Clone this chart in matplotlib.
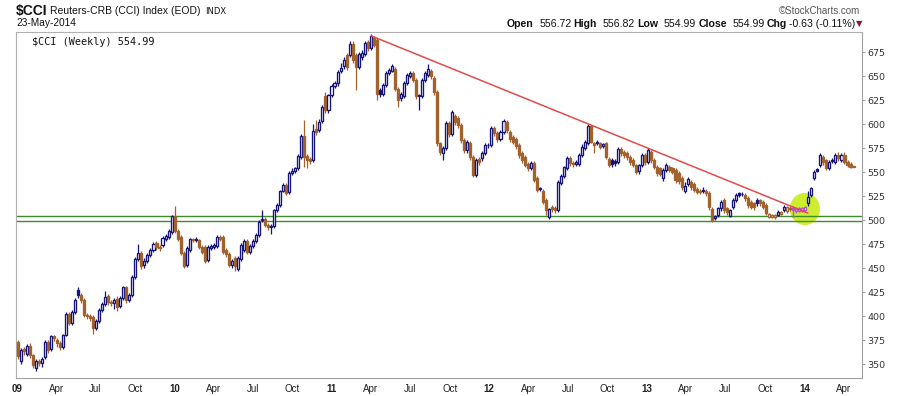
import numpy as np
import pandas as pd
import matplotlib
matplotlib.use('Agg')
import matplotlib.pyplot as plt
import matplotlib.dates as mdates
from matplotlib.patches import Ellipse

# ---------------- data (weekly OHLC) ----------------
first_week = '2009-01-02'

opens = [
    373, 353, 366, 361, 369, 360, 346, 353, 351, 358,
    373, 366, 379, 375, 372, 368, 381, 402, 393, 404,
    427, 422, 417, 401, 400, 399, 388, 395, 407, 413,
    421, 415, 414, 418, 411, 419, 430, 417, 422, 441,
    460, 466, 453, 458, 464, 469, 476, 472, 474, 480,
    483, 488, 504, 489, 483, 466, 453, 469, 480, 481,
    479, 472, 472, 459, 471, 472, 473, 483, 483, 469,
    465, 453, 461, 449, 460, 469, 478, 467, 473, 478,
    485, 501, 501, 495, 494, 494, 511, 516, 531, 537,
    529, 549, 551, 554, 566, 588, 567, 564, 563, 595,
    594, 603, 629, 615, 630, 640, 642.6, 655, 661, 672,
    672, 684, 672, 660, 670, 673, 686, 679, 690, 688,
    636, 632, 641, 653, 656, 658, 637, 627, 629, 643,
    650, 653, 646, 629, 629, 646, 651, 656, 648, 634,
    580, 570, 575, 601, 590, 609, 607, 599, 584, 573,
    581, 566, 547, 564, 565, 570, 578, 578, 596, 591,
    585, 592, 602, 592, 587, 585, 578, 570, 566, 559,
    554, 560, 544, 533.5, 531, 521, 503, 514, 513, 510.7,
    539, 546, 554, 564.5, 560, 559, 559, 568, 575, 580,
    598, 580, 582, 580, 577, 580, 564, 563, 562, 561,
    574, 571, 570, 566, 563, 557.6, 551, 557.6, 568, 561,
    571, 563, 556, 554, 544, 552, 556, 554, 552, 549,
    543.7, 531, 538, 540, 538, 533, 531, 532, 531, 528,
    512, 502, 505.5, 512.4, 521, 512.4, 504.4, 514, 521, 528,
    527.3, 526, 523, 519.4, 517.6, 521, 521, 519, 516, 503.7,
    503.7, 503, 505.5, 506.5, 510.7, 510, 512, 513, 510, 510,
    510, 511, 517.6, 526, 543.7, 553, 557.6, 566, 562.8, 554,
    562, 561, 568, 563, 568, 561, 559, 556.72,
]

closes = [
    359, 365, 364, 369.5, 360, 349, 353, 351, 355, 373,
    365, 379, 377, 372, 368, 381, 402, 393, 404, 417,
    422, 417, 401, 400, 398, 388, 395, 407, 413, 420,
    415, 414, 417, 410, 419, 430, 417, 422, 441, 460,
    466, 452, 458, 464, 469, 475, 472, 471, 482, 484,
    489, 504.5, 489, 481, 466, 452, 471, 480, 479, 479.5,
    472, 467, 458, 472, 473, 474, 483, 481, 467, 465,
    453, 458, 452, 461, 474, 478, 467, 473, 478, 485,
    498.5, 500, 495, 493, 493.5, 510.7, 516, 530.8, 536.7, 528.8,
    548.9, 551.7, 554, 567, 587.8, 566, 563, 562, 593.3, 592,
    602.7, 617.6, 615, 630, 639.9, 642.6, 654.8, 658.3, 667, 660,
    684, 667, 660, 673, 674, 685, 679, 692, 683, 632,
    632, 641, 653, 657, 660.7, 637, 625, 632, 643, 651,
    653, 646, 629, 630, 646, 653, 658, 650, 634, 580,
    571, 575, 601, 590, 613, 602, 599, 584, 573, 582,
    566, 547, 563, 561, 570, 578, 578.5, 596, 591, 585,
    592, 603, 594, 585, 582, 577, 568, 563, 558, 554,
    560, 542, 532, 532.5, 519.4, 510.7, 511.8, 511.5, 510.7, 540,
    546, 555, 564.5, 559.5, 559, 561, 568, 576.7, 582, 598.2,
    582, 578.5, 580.5, 576.7, 579, 566, 557.6, 559, 560, 574,
    570, 568, 566, 561, 557.6, 550.7, 557.6, 568, 561, 573,
    563, 556, 549, 548.5, 552, 557.6, 552.4, 550.7, 542, 541,
    535, 536, 542.5, 535, 531.5, 529.8, 529.5, 530.8, 528, 514,
    500.3, 504.4, 512.4, 519.4, 510.7, 509, 510.7, 521, 526.3, 526.5,
    527, 522.8, 516, 514, 513.8, 518.3, 517.6, 514, 507.2, 506.5,
    505.5, 505, 509, 508.5, 514, 513.5, 513, 510.5, 512, 512.5,
    512.5, 513.5, 524.6, 533.3, 550.6, 551.7, 568, 561, 554, 561,
    562.8, 568, 564.5, 568, 561, 557.6, 555.6, 554.99,
]

highs = [
    375, 367, 368, 371, 372, 361, 355, 356, 358, 375,
    375, 381, 381, 377, 374, 382, 404, 404, 407, 419,
    431, 424, 419, 403, 402, 401, 397, 409, 415, 426,
    423, 417, 419, 421, 421, 432, 432, 424, 443, 462,
    475, 468, 461, 466, 471, 477, 478, 474, 484, 486,
    491, 506, 515, 491, 485, 468, 473, 482, 482, 483,
    481, 474, 474, 474, 475, 476, 485, 485, 485, 471,
    467, 460, 463, 463, 476, 480, 480, 475, 480, 487,
    500, 510.7, 503, 497, 496, 512, 518, 532, 539, 539,
    551, 554, 556, 569, 590, 604, 569, 566, 600, 604,
    605, 620, 634, 632, 642, 645, 657, 664, 670, 674,
    687, 687, 674, 675, 677, 687, 688, 694, 692, 690,
    638, 643, 655, 659, 663, 660, 639, 634, 645, 653,
    656, 655, 648, 632, 648, 655, 663, 658, 650, 636,
    582, 577, 603, 603, 615, 611, 609, 601, 586, 584,
    583, 568, 565, 566, 572, 580, 581, 598, 598, 593,
    594, 606, 604, 594, 589, 587, 580, 572, 568, 561,
    562, 562, 546, 535, 533, 523, 513, 516, 515, 542,
    548, 557, 567, 567, 562, 563, 570, 579, 584, 600,
    599, 582, 584, 582, 581, 582, 566, 565, 564, 576,
    576, 573, 572, 568, 565, 559, 559, 570, 570, 575,
    573, 565, 558, 556, 554, 560, 558, 556, 554, 551,
    546, 540, 545, 542, 540, 535, 533, 535, 533, 530,
    514, 506, 514, 521, 523, 514, 512, 523, 528, 529.5,
    529, 528, 525, 521, 519, 523, 522, 521, 518, 508,
    507, 506.5, 510.5, 510, 516, 515, 515, 515, 514, 514,
    514, 515, 531, 535, 552, 554, 570, 568, 564, 563,
    565, 570, 571, 570, 571, 563, 560.5, 556.82,
]

lows = [
    355, 350, 360, 359, 357, 346, 343, 348, 347, 355,
    362, 364, 374, 368, 365, 366, 379, 391, 391, 402,
    419, 414, 399, 397, 395, 382, 386, 393, 404, 411,
    412, 411, 408, 406, 409, 417, 414, 415, 420, 439,
    458, 449, 450, 456, 462, 467, 469, 468, 472, 478,
    481, 486, 487, 478, 464, 450, 451, 467, 477, 477,
    470, 465, 456, 457, 469, 470, 471, 478, 465, 462,
    451, 450, 447, 447, 458, 467, 465, 465, 471, 476,
    483, 498, 493, 490, 486, 492, 509, 514, 529, 526,
    527, 547, 549, 552, 564, 556, 554, 559, 561, 589,
    592, 601, 612, 612, 628, 638, 640, 653, 658, 657,
    670, 664, 636, 658, 667, 671, 676, 677, 680, 625,
    628, 629, 639, 651, 654, 635, 618, 624, 627, 641,
    648, 644, 626, 615, 627, 644, 649, 647, 631, 577,
    568, 563, 573, 587, 588, 599, 596, 581, 570, 570,
    563, 545, 545, 558, 562, 568, 575, 576, 588, 582,
    583, 590, 591, 582, 579, 574, 565, 560, 555, 551,
    552, 540, 529, 530, 517, 505, 501, 509, 508, 509,
    537, 544, 552, 557, 556, 557, 557, 566, 573, 578,
    580, 570, 578, 574, 575, 564, 555, 556, 557, 559,
    567, 565, 563, 558, 555, 548, 548, 555, 558, 559,
    560, 553, 546, 546, 541, 550, 550, 548, 539, 538,
    532, 528, 536, 532, 529, 527, 527, 528, 525, 511,
    498.5, 500, 503, 510, 508, 506, 503, 512, 519, 524,
    525, 520, 513, 512, 511, 515, 515, 512, 505, 502,
    502, 501.5, 504, 505, 509, 508, 510, 503.5, 508, 508.5,
    509, 510, 515, 524, 542, 550, 556, 558, 552, 552,
    560, 559, 562, 561, 559, 555, 554, 554.99,
]

trend_dates = ['2011-04-01', '2014-01-10']
trend_values = [692.3, 507.3]
support_levels = [499.3, 504.3]
highlight_center = ('2014-01-02', 511.8)
highlight_weeks = ('2013-12-06', '2014-01-03')
y_ticks = [350, 375, 400, 425, 450, 475, 500, 525, 550, 575, 600, 625, 650, 675]

# ---------------- style ----------------
UP = '#14147a'
DOWN = '#a2622e'
HILITE = '#b455c4'
W, H = 900, 396

n = min(len(opens), len(closes), len(highs), len(lows))
o = np.array(opens[:n], float)
c = np.array(closes[:n], float)
hi = np.array(highs[:n], float)
lo = np.array(lows[:n], float)
dates = pd.date_range(first_week, periods=n, freq='7D')
x = mdates.date2num(dates.to_pydatetime())

prev = np.concatenate([[o[0]], c[:-1]])
up = c >= prev
hollow = c > o
cols = np.where(up, UP, DOWN).astype(object)
h0, h1 = (mdates.date2num(pd.Timestamp(d).to_pydatetime()) for d in highlight_weeks)
cols[(x >= h0) & (x <= h1)] = HILITE

fig = plt.figure(figsize=(W / 100, H / 100), dpi=100)
ax = fig.add_axes([16 / W, 1 - 378.3 / H, (862 - 16) / W, (378.3 - 32.3) / H])

# highlight circle
cx = mdates.date2num(pd.Timestamp(highlight_center[0]).to_pydatetime())
ax.add_patch(Ellipse((cx, highlight_center[1]), width=70, height=33.5,
                     facecolor='#c9ec1f', edgecolor='none', alpha=0.92, zorder=1))

for lvl in support_levels:
    ax.axhline(lvl, color='#3f8c2a', lw=1.0, zorder=2)

ax.vlines(x, lo, hi, colors=list(cols), lw=0.9, zorder=3)
bottoms = np.minimum(o, c)
heights = np.maximum(np.abs(c - o), 0.6)
faces = [('white' if hl else col) for hl, col in zip(hollow, cols)]
ax.bar(x, heights, bottom=bottoms, width=4.8, color=faces, edgecolor=list(cols),
       linewidth=0.95, zorder=4, align='center')

td = mdates.date2num(pd.to_datetime(trend_dates).to_pydatetime())
ax.plot(td, trend_values, color='#e34a4a', lw=1.1, zorder=5, solid_capstyle='butt')

# axes limits
x0 = mdates.date2num(pd.Timestamp(first_week).to_pydatetime())
ax.set_xlim(x0 - 3.9, x0 + 1958.6)
ax.set_ylim(335.4, 695.8)

# y axis on the right
ax.yaxis.tick_right()
ax.set_yticks(y_ticks)
ax.set_yticklabels([str(v) for v in y_ticks], fontsize=6.8, color='#333333',
                   family='DejaVu Sans')
ax.tick_params(axis='y', length=2.5, width=0.6, pad=1.2, color='#888888')

# x axis quarter ticks
qs = pd.date_range('2009-01-01', '2014-04-01', freq='QS')
ax.set_xticks(mdates.date2num(qs.to_pydatetime()))
labs = [(f"{d.year % 100:02d}" if d.month == 1 else d.strftime('%b')) for d in qs]
ax.set_xticklabels(labs, fontsize=7, color='#222222',
                   family=['Liberation Sans Narrow', 'Liberation Sans', 'DejaVu Sans'])
for lab, d in zip(ax.get_xticklabels(), qs):
    if d.month == 1:
        lab.set_fontweight('bold')
ax.tick_params(axis='x', length=0, pad=4)

for s in ['top', 'left']:
    ax.spines[s].set_color('#b0b0b0')
    ax.spines[s].set_linewidth(0.8)
for s in ['right', 'bottom']:
    ax.spines[s].set_color('#a0a0a0')
    ax.spines[s].set_linewidth(0.8)
    ax.spines[s].set_linestyle((0, (1, 1)))

ax.text(0.019, 0.985, '$CCI (Weekly) 554.99', transform=ax.transAxes,
        fontsize=7.3, family='DejaVu Sans Mono', va='top', ha='left', color='#111111')

# ---------------- header texts ----------------
fig.canvas.draw()
r = fig.canvas.get_renderer()
SANS = ['Liberation Sans', 'DejaVu Sans']


def chain_rl(xpix, ypix, pieces):
    for s, kw, gap in reversed(pieces):
        t = fig.text(xpix / W, 1 - ypix / H, s, va='center', ha='right', **kw)
        bb = t.get_window_extent(renderer=r)
        xpix = bb.x0 - gap
    return xpix


xp = 16
t = fig.text(xp / W, 1 - 11 / H, '$CCI', fontsize=10, fontweight='bold',
             family=SANS, va='center', ha='left', color='#111111')
xp = t.get_window_extent(renderer=r).x1 + 3
t = fig.text(xp / W, 1 - 11 / H, 'Reuters-CRB (CCI) Index (EOD)', fontsize=7.5,
             family=SANS, va='center', ha='left', color='#111111')
xp = t.get_window_extent(renderer=r).x1 + 4
fig.text(xp / W, 1 - 11.5 / H, 'INDX', fontsize=6, family='DejaVu Sans',
         va='center', ha='left', color='#111111')
fig.text(16 / W, 1 - 23.5 / H, '23-May-2014', fontsize=7.3, family=SANS,
         va='center', ha='left', color='#111111')

fig.text(860 / W, 1 - 10.5 / H, '\u00a9StockCharts.com', fontsize=7, family=SANS,
         va='center', ha='right', color='#555555')

B = dict(fontsize=7.6, family=SANS, fontweight='bold', color='#111111')
N = dict(fontsize=7.6, family=SANS, color='#111111')
pieces = [
    ('Open', B, 2), ('556.72', N, 6),
    ('High', B, 2), ('556.82', N, 6),
    ('Low', B, 2), ('554.99', N, 6),
    ('Close', B, 2), ('554.99', N, 6),
    ('Chg', B, 2), ('-0.63 (-0.11%)', N, 2),
    ('\u25bc', dict(fontsize=6, family='DejaVu Sans', color='#8a1538'), 0),
]
chain_rl(862, 24, pieces)

fig.savefig('out.png', dpi=100, facecolor='white')
